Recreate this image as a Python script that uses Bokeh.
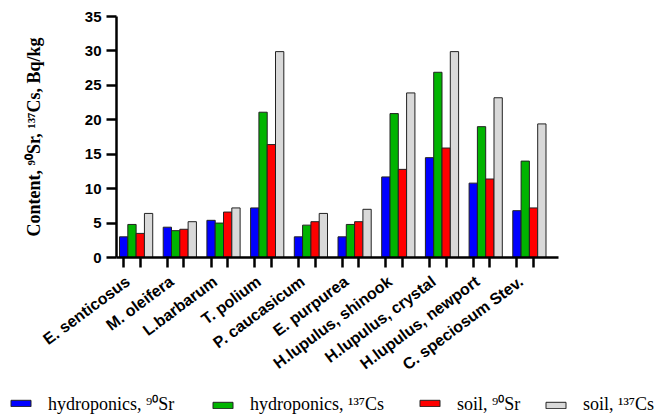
import numpy as np
from bokeh.plotting import figure
from bokeh.models import FixedTicker, Legend, LegendItem, Range1d
from bokeh.embed import file_html
from bokeh.resources import INLINE

species = ["E. senticosus", "M. oleifera", "L.barbarum", "T. polium", "P. caucasicum",
           "E. purpurea", "H.lupulus, shinook", "H.lupulus, crystal", "H.lupulus, newport",
           "C. speciosum Stev."]
hydro_sr = [3.0, 4.4, 5.4, 7.2, 3.0, 3.0, 11.7, 14.5, 10.8, 6.8]
hydro_cs = [4.8, 3.9, 5.0, 21.1, 4.7, 4.8, 20.9, 26.9, 19.0, 14.0]
soil_sr = [3.5, 4.1, 6.6, 16.4, 5.2, 5.2, 12.8, 15.9, 11.4, 7.2]
soil_cs = [6.4, 5.2, 7.2, 29.9, 6.4, 7.0, 23.9, 29.9, 23.2, 19.4]
series_names = ["hydroponics, \u2079\u2070Sr", "hydroponics, \u00b9\u00b3\u2077Cs",
                "soil, \u2079\u2070Sr", "soil, \u00b9\u00b3\u2077Cs"]
colors = ["#0000ff", "#00b400", "#ff0000", "#d9d9d9"]
y_ticks = [0, 5, 10, 15, 20, 25, 30, 35]

w = 0.19
shift = 0.19  # labels sit slightly left of the group centre
label_pos = np.arange(len(species))
centers = label_pos + shift
offsets = [-1.5 * w, -0.5 * w, 0.5 * w, 1.5 * w]

x_axis_start = shift - 0.449
x_axis_end = shift + 9.666
W, H = 670, 419
px_x = 442 / (x_axis_end - x_axis_start)   # pixels per x unit
px_y = 241 / 35.0                           # pixels per y unit
x_lo = x_axis_start - 116 / px_x
x_hi = x_axis_start + (W - 116) / px_x
y_hi = 35 + 16 / px_y
y_lo = -(H - 257) / px_y

p = figure(width=W, height=H, output_backend="svg", toolbar_location=None,
           x_range=Range1d(x_lo, x_hi), y_range=Range1d(y_lo, y_hi),
           min_border=0, min_border_left=0, min_border_right=0,
           min_border_top=0, min_border_bottom=0)
p.outline_line_color = None
p.xgrid.visible = False
p.ygrid.visible = False

renderers = []
for vals, off, col in zip([hydro_sr, hydro_cs, soil_sr, soil_cs], offsets, colors):
    r = p.vbar(x=centers + off, top=vals, width=w, bottom=0, fill_color=col,
               line_color="#222222", line_width=1)
    renderers.append(r)

# x axis (drawn at y = 0 inside the canvas)
xa = p.xaxis[0]
xa.fixed_location = 0
xa.bounds = (x_axis_start, x_axis_end)
xa.ticker = FixedTicker(ticks=[int(i) for i in label_pos],
                        minor_ticks=list(centers + offsets[0]) + list(centers + offsets[2]))
xa.major_label_overrides = {int(i): s for i, s in zip(label_pos, species)}
xa.major_label_orientation = 0.64
xa.major_tick_out = 0
xa.major_tick_in = 0
xa.minor_tick_out = 10
xa.minor_tick_in = 0
xa.minor_tick_line_width = 2.5
xa.minor_tick_line_color = "black"
xa.major_label_standoff = 12
xa.major_label_text_font = "Liberation Sans"
xa.major_label_text_font_style = "bold"
xa.major_label_text_font_size = "16px"
xa.major_label_text_color = "black"
xa.axis_line_width = 2.5
xa.axis_line_color = "black"

# y axis
ya = p.yaxis[0]
ya.fixed_location = x_axis_start
ya.bounds = (0, 35)
ya.ticker = FixedTicker(ticks=y_ticks)
ya.major_tick_out = 10
ya.major_tick_in = 0
ya.minor_tick_out = 0
ya.minor_tick_in = 0
ya.major_tick_line_width = 2.5
ya.major_tick_line_color = "black"
ya.axis_line_width = 2.5
ya.axis_line_color = "black"
ya.major_label_text_font = "Liberation Sans"
ya.major_label_text_font_style = "bold"
ya.major_label_text_font_size = "15px"
ya.major_label_text_color = "black"
ya.major_label_standoff = 5
ya.axis_label = "Content, \u2079\u2070Sr, \u00b9\u00b3\u2077Cs, Bq/kg"
ya.axis_label_text_font = "Liberation Serif"
ya.axis_label_text_font_style = "bold"
ya.axis_label_text_font_size = "18px"
ya.axis_label_text_color = "black"
ya.axis_label_standoff = 38

# legend: one entry per series, laid out in a row under the labels
legend_x = [8, 210, 417, 543]
for name, r, lx in zip(series_names, renderers, legend_x):
    leg = Legend(items=[LegendItem(label=name, renderers=[r])], location=(lx, 4),
                 label_text_font="Liberation Serif", label_text_font_size="18px",
                 label_text_color="black", glyph_width=25, glyph_height=8,
                 label_standoff=15, padding=0, margin=0, border_line_color=None,
                 background_fill_alpha=0)
    p.add_layout(leg, "center")

open("out.html", "w").write(file_html(p, INLINE))
